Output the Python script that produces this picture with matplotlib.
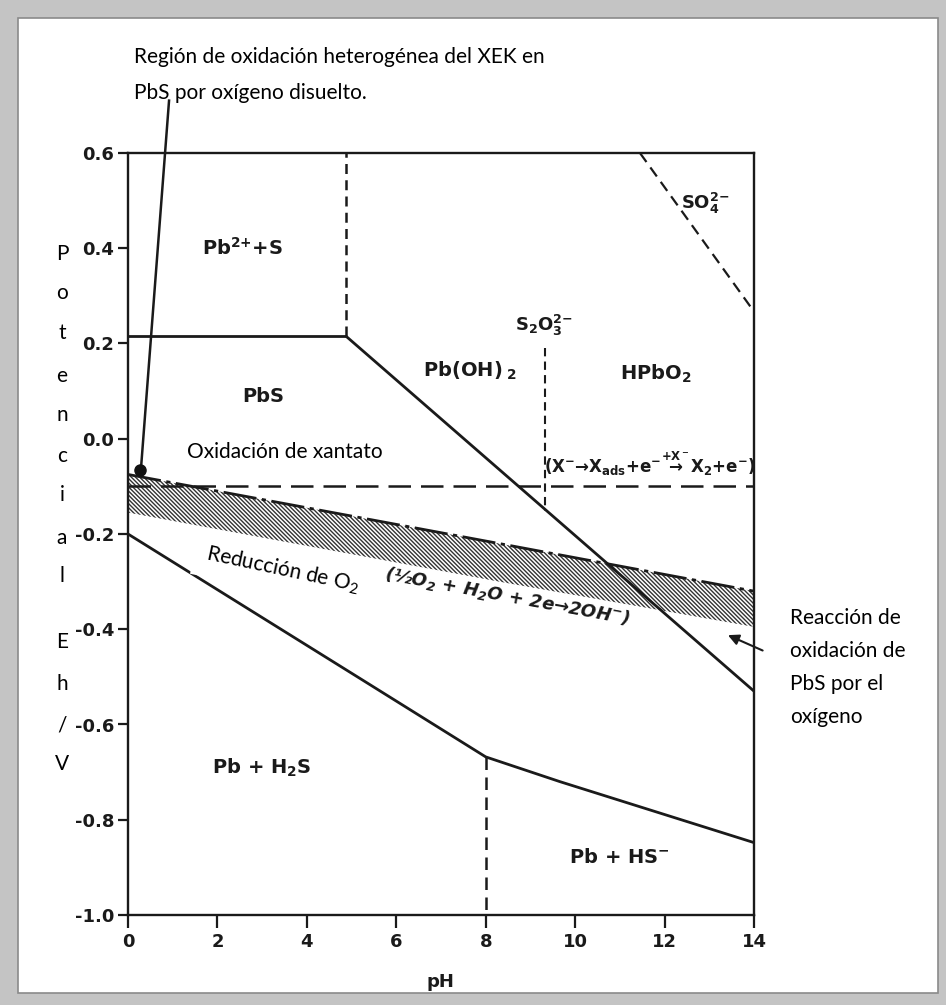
import matplotlib
matplotlib.use("Agg")
import matplotlib.pyplot as plt
from matplotlib.patches import Rectangle

plt.rcParams['axes.unicode_minus'] = False
plt.rcParams['hatch.linewidth'] = 1.0
plt.rcParams['hatch.color'] = '#333333'

# ---------------- data (pH, Eh/V) ----------------
pb2_pbs_ph = [0, 4.88]
pb2_pbs_eh = [0.215, 0.215]
pb2_pboh_ph = [4.88, 4.88]
pb2_pboh_eh = [0.215, 0.6]
pbs_upper_ph = [4.88, 14]
pbs_upper_eh = [0.215, -0.53]
pboh_hpbo_ph = [9.33, 9.33]
pboh_hpbo_eh = [0.19, -0.151]
so4_ph = [11.45, 14]
so4_eh = [0.6, 0.267]
xan_ph = [0, 14]
xan_eh = [-0.10, -0.10]
band_ph = [0, 8.3, 14]
band_top = [-0.075, -0.220, -0.32]
band_bottom = [-0.155, -0.30, -0.395]
pbs_lower_ph = [0, 5.2, 8, 9.66, 14]
pbs_lower_eh = [-0.20, -0.504, -0.668, -0.72, -0.848]
hs_ph = [8, 8]
hs_eh = [-0.668, -1.0]
steep_ph = [0.29, 0.918]
steep_eh = [-0.063, 0.71]
dot_ph = [0.27]
dot_eh = [-0.065]

xticks = [0, 2, 4, 6, 8, 10, 12, 14]
yticks = [0.6, 0.4, 0.2, 0.0, -0.2, -0.4, -0.6, -0.8, -1.0]
ylabels = ['0.6', '0.4', '0.2', '0.0', '-0.2', '-0.4', '-0.6', '-0.8', '-1.0']

W, H = 946, 1005
fig = plt.figure(figsize=(W / 100, H / 100), dpi=100)

# frame
fig.patches.append(Rectangle((0, 0), 1, 1, transform=fig.transFigure,
                             facecolor='#c4c4c4', edgecolor='none', zorder=-10))
fig.patches.append(Rectangle((18 / W, 1 - 993 / H), (938 - 18) / W, (993 - 18) / H,
                             transform=fig.transFigure, facecolor='white',
                             edgecolor='#8a8a8a', linewidth=1.2, zorder=-9))

ax = fig.add_axes([128 / W, 1 - 915 / H, (754 - 128) / W, (915 - 153) / H])
ax.set_facecolor('none')
ax.set_xlim(0, 14)
ax.set_ylim(-1.0, 0.6)
for s in ax.spines.values():
    s.set_linewidth(1.7)
    s.set_color('#1a1a1a')

lab_font = dict(family=['DejaVu Sans'], fontweight='bold', color='#1a1a1a')
ax.set_xticks(xticks)
ax.set_xticklabels([str(t) for t in xticks], fontsize=13, **lab_font)
ax.set_yticks(yticks)
ax.set_yticklabels(ylabels, fontsize=13, **lab_font)
ax.tick_params(axis='x', direction='out', length=9, width=1.6, pad=4, colors='#1a1a1a')
ax.tick_params(axis='y', direction='out', length=7, width=1.6, pad=3, colors='#1a1a1a')

solid = dict(color='#1a1a1a', lw=2.0, solid_capstyle='butt')
ax.plot(pb2_pbs_ph, pb2_pbs_eh, **solid)
ax.plot(pbs_upper_ph, pbs_upper_eh, **solid)
ax.plot(pbs_lower_ph, pbs_lower_eh, **solid)
ax.plot(pb2_pboh_ph, pb2_pboh_eh, color='#1a1a1a', lw=1.8, ls=(0, (4, 2.5)))
ax.plot(pboh_hpbo_ph, pboh_hpbo_eh, color='#1a1a1a', lw=1.5, ls=(0, (4, 2.5)))
ax.plot(so4_ph, so4_eh, color='#1a1a1a', lw=1.6, ls=(0, (5, 3)))
ax.plot(hs_ph, hs_eh, color='#1a1a1a', lw=1.8, ls=(0, (5, 3)))
ax.plot(xan_ph, xan_eh, color='#1a1a1a', lw=1.8, ls=(0, (9, 4)))

ax.fill_between(band_ph, band_top, band_bottom, facecolor='white',
                edgecolor='#333333', hatch='\\' * 8, linewidth=0, zorder=1)
ax.plot(band_ph, band_top, color='#1a1a1a', lw=2.0, ls=(0, (12, 2, 1.5, 2)))

ax.plot(steep_ph, steep_eh, color='#1a1a1a', lw=1.8, clip_on=False)
ax.plot(dot_ph, dot_eh, 'o', color='#111111', ms=8, clip_on=False, zorder=5)

ax.annotate('', xy=(13.36, -0.41), xytext=(14.25, -0.447),
            arrowprops=dict(arrowstyle='-|>', color='#1a1a1a', lw=1.5,
                            mutation_scale=16), annotation_clip=False)

# region labels
rl = dict(family=['DejaVu Sans'], fontweight='bold', fontsize=14,
          color='#1a1a1a', ha='center', va='center')
ax.text(2.57, 0.40, r'Pb$\mathregular{^{2{+}}}$+S', **rl)
ax.text(3.02, 0.088, 'PbS', **rl)
ax.text(7.65, 0.143, r'Pb(OH)$\mathregular{_{\ 2}}$', **rl)
ax.text(11.8, 0.137, r'HPbO$\mathregular{_2}$', **rl)
ax.text(9.3, 0.237, r'S$\mathregular{_2}$O$\mathregular{_3^{2{-}}}$', **{**rl, 'fontsize': 13})
ax.text(12.9, 0.494, r'SO$\mathregular{_4^{2{-}}}$', **{**rl, 'fontsize': 13})
ax.text(3.0, -0.69, r'Pb + H$\mathregular{_2}$S', **rl)
ax.text(11.0, -0.88, r'Pb + HS$\mathregular{^{{-}}}$', **rl)
ax.text(11.68, -0.053,
        r'(X$\mathregular{^{{-}}}$→X$\mathregular{_{ads}}$+e$\mathregular{^{{-}}}$'
        r'$\mathregular{\overset{+X^-}{\rightarrow}}$X$\mathregular{_2}$+e$\mathregular{^{{-}}}$)',
        **{**rl, 'fontsize': 12})
ax.text(8.48, -0.332,
        r'(½O$\mathregular{_2}$ + H$\mathregular{_2}$O + 2e→2OH$\mathregular{^{{-}}}$)',
        family=['DejaVu Sans'], fontweight='bold', fontstyle='italic', fontsize=13,
        color='#1a1a1a', ha='center', va='center', rotation=-10.5, rotation_mode='anchor')

# annotations (Word-like font)
an = dict(family=['Lato', 'DejaVu Sans'], fontsize=15, color='black')
ax.text(3.5, -0.027, 'Oxidación de xantato', ha='center', va='center', **an)
ax.text(3.45, -0.275, r'Reducción de O$\mathregular{_2}$', ha='center', va='center',
        rotation=-12, rotation_mode='anchor', zorder=6,
        bbox=dict(boxstyle='square,pad=0.55', facecolor='white', edgecolor='none'), **an)

fig.text(134 / W, 1 - 57 / H, 'Región de oxidación heterogénea del XEK en',
         ha='left', va='center', **an)
fig.text(134 / W, 1 - 93 / H, 'PbS por oxígeno disuelto.', ha='left', va='center', **an)

for i, line in enumerate(['Reacción de', 'oxidación de', 'PbS por el', 'oxígeno']):
    fig.text(790 / W, 1 - (618 + 33 * i) / H, line, ha='left', va='center', **an)

ylab_chars = ['P', 'o', 't', 'e', 'n', 'c', 'i', 'a', 'l', 'E', 'h', '/', 'V']
ylab_pos = [254, 293, 333, 376, 415, 456, 495, 538, 576, 642, 684, 725, 764]
for ch, yp in zip(ylab_chars, ylab_pos):
    fig.text(62 / W, 1 - yp / H, ch, ha='center', va='center', **an)

fig.text(440 / W, 1 - 982 / H, 'pH', ha='center', va='center',
         family=['DejaVu Sans'], fontweight='bold', fontsize=13, color='#1a1a1a')

fig.savefig('out.png', dpi=100)
